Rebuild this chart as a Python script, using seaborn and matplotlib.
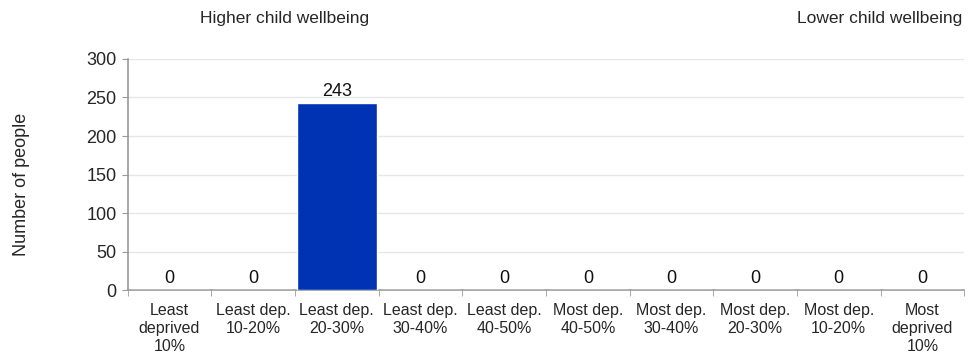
import matplotlib
matplotlib.use("Agg")
import matplotlib.pyplot as plt
import seaborn as sns
import numpy as np
import pandas as pd

categories = ["Least\ndeprived\n10%", "Least dep.\n10-20%", "Least dep.\n20-30%",
              "Least dep.\n30-40%", "Least dep.\n40-50%", "Most dep.\n40-50%",
              "Most dep.\n30-40%", "Most dep.\n20-30%", "Most dep.\n10-20%",
              "Most\ndeprived\n10%"]
people = [0, 0, 243, 0, 0, 0, 0, 0, 0, 0]
y_ticks = [0, 50, 100, 150, 200, 250, 300]

df = pd.DataFrame({"decile": categories, "people": people})

sns.set_style("white")
plt.rcParams["font.family"] = ["Liberation Sans", "DejaVu Sans"]

fig = plt.figure(figsize=(9.75, 3.53), dpi=100)
ax = fig.add_axes([0.131, 0.178, 0.858, 0.655])

sns.barplot(data=df, x="decile", y="people", color="#0033B4", saturation=1,
            width=0.95, ax=ax, zorder=3)

for i, v in enumerate(people):
    ax.text(i, v + 4, str(v), ha="center", va="bottom", fontsize=13, color="#111111")

ax.set_ylim(0, 300)
ax.set_xlim(-0.5, len(categories) - 0.5)
ax.set_yticks(y_ticks)
ax.yaxis.grid(True, color="#E6E6E6", linewidth=1, zorder=0)
ax.set_axisbelow(True)

ax.set_xlabel("")
ax.set_ylabel("")

for s in ["top", "right"]:
    ax.spines[s].set_visible(False)
for s in ["left", "bottom"]:
    ax.spines[s].set_color("#999999")
    ax.spines[s].set_linewidth(1.2)

ax.tick_params(axis="y", labelsize=13, length=4, color="#999999", pad=4, left=True)
ax.tick_params(axis="x", which="major", labelsize=11.5, length=0, pad=9)
for lbl in ax.get_xticklabels():
    lbl.set_linespacing(1.25)
ax.set_xticks(np.arange(-0.5, len(categories)), minor=True)
ax.tick_params(axis="x", which="minor", length=4, color="#999999", bottom=True)

fig.text(22 / 975, 0.478, "Number of people", rotation=90, ha="center", va="center", fontsize=13)
fig.text(0.292, 0.949, "Higher child wellbeing", ha="center", va="center", fontsize=12.5)
fig.text(0.987, 0.949, "Lower child wellbeing", ha="right", va="center", fontsize=12.5)

fig.savefig("out.png", dpi=100)
